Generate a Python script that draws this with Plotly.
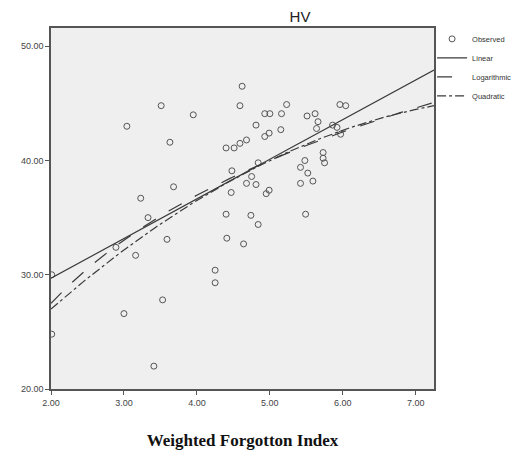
import numpy as np
import plotly.graph_objects as go

# Observed data (Weighted Forgotton Index, HV)
wfi = [2.01, 2.01, 3.00, 3.04, 3.16, 3.23, 3.33, 2.89, 3.41, 3.51, 3.53, 3.59, 3.63, 3.68,
       3.95, 4.25, 4.25, 4.40, 4.41, 4.40, 4.51, 4.59, 4.68, 4.48, 4.47, 4.68, 4.81, 4.64,
       4.74, 4.84, 4.62, 4.59, 4.81, 4.93, 5.00, 5.16, 5.23, 4.93, 4.99, 5.15, 4.84, 4.75,
       4.95, 4.99, 5.51, 5.62, 5.66, 5.64, 5.96, 6.04, 5.86, 5.92, 5.97, 5.73, 5.73, 5.75,
       5.48, 5.42, 5.52, 5.42, 5.59, 5.49]
hv = [24.8, 30.0, 26.6, 43.0, 31.7, 36.7, 35.0, 32.4, 22.0, 44.8, 27.8, 33.1, 41.6, 37.7,
      44.0, 30.4, 29.3, 35.3, 33.2, 41.1, 41.1, 41.5, 41.8, 39.1, 37.2, 38.0, 37.9, 32.7,
      35.2, 34.4, 46.5, 44.8, 43.1, 44.1, 44.1, 44.1, 44.9, 42.1, 42.4, 42.7, 39.8, 38.6,
      37.1, 37.4, 43.9, 44.1, 43.4, 42.8, 44.9, 44.8, 43.1, 42.9, 42.3, 40.7, 40.2, 39.8,
      40.0, 39.4, 38.9, 38.0, 38.2, 35.3]

# Fitted model coefficients
linear_coef = [22.76, 3.47]            # a + b*x
log_coef = [18.03, 13.66]              # a + b*ln(x)
quad_coef = [14.149, 7.263, -0.4187]   # a + b*x + c*x^2

x_range = [2.0, 7.25]
xs = np.linspace(x_range[0], x_range[1], 200)

y_lin = linear_coef[0] + linear_coef[1] * xs
y_log = log_coef[0] + log_coef[1] * np.log(xs)
y_quad = quad_coef[0] + quad_coef[1] * xs + quad_coef[2] * xs ** 2

line_col = "#3a3a3a"
fig = go.Figure()
fig.add_trace(go.Scatter(x=wfi, y=hv, mode="markers", name="Observed",
                         marker=dict(symbol="circle-open", size=6, color="#555555",
                                     line=dict(width=1, color="#555555"))))
fig.add_trace(go.Scatter(x=xs, y=y_lin, mode="lines", name="Linear",
                         line=dict(color=line_col, width=1.2)))
fig.add_trace(go.Scatter(x=xs, y=y_log, mode="lines", name="Logarithmic",
                         line=dict(color=line_col, width=1.2, dash="longdash")))
fig.add_trace(go.Scatter(x=xs, y=y_quad, mode="lines", name="Quadratic",
                         line=dict(color=line_col, width=1.2, dash="dashdot")))

axis_font = dict(family="Liberation Sans, Arial", size=9, color="#444444")
fig.update_layout(
    width=512, height=457,
    margin=dict(l=51, r=78, t=28, b=68, autoexpand=False),
    paper_bgcolor="white",
    plot_bgcolor="#efefef",
    title=dict(text="HV", x=300 / 512, xanchor="center", y=1 - 17 / 457, yanchor="middle",
               font=dict(family="Liberation Sans, Arial", size=15, color="#222222")),
    showlegend=True,
    legend=dict(x=0.995, xanchor="left", y=1.01, yanchor="top",
                font=dict(family="Liberation Sans, Arial", size=7.5, color="#333333"),
                bgcolor="rgba(0,0,0,0)", itemwidth=30, tracegroupgap=0),
    xaxis=dict(range=x_range, dtick=1, tick0=2, tickformat=".2f", showgrid=False,
               zeroline=False, showline=True, mirror=True, linecolor="#555555", linewidth=1.5,
               ticks="outside", ticklen=4, tickcolor="#555555", tickfont=axis_font,
               title=dict(text="<b>Weighted Forgotton Index</b>", standoff=28,
                          font=dict(family="Liberation Serif, Times New Roman", size=17,
                                    color="#111111"))),
    yaxis=dict(range=[20, 51.6], dtick=10, tick0=20, tickformat=".2f", showgrid=False,
               zeroline=False, showline=True, mirror=True, linecolor="#555555", linewidth=1.5,
               ticks="outside", ticklen=4, tickcolor="#555555", tickfont=axis_font),
)

fig.write_html("out.html")
